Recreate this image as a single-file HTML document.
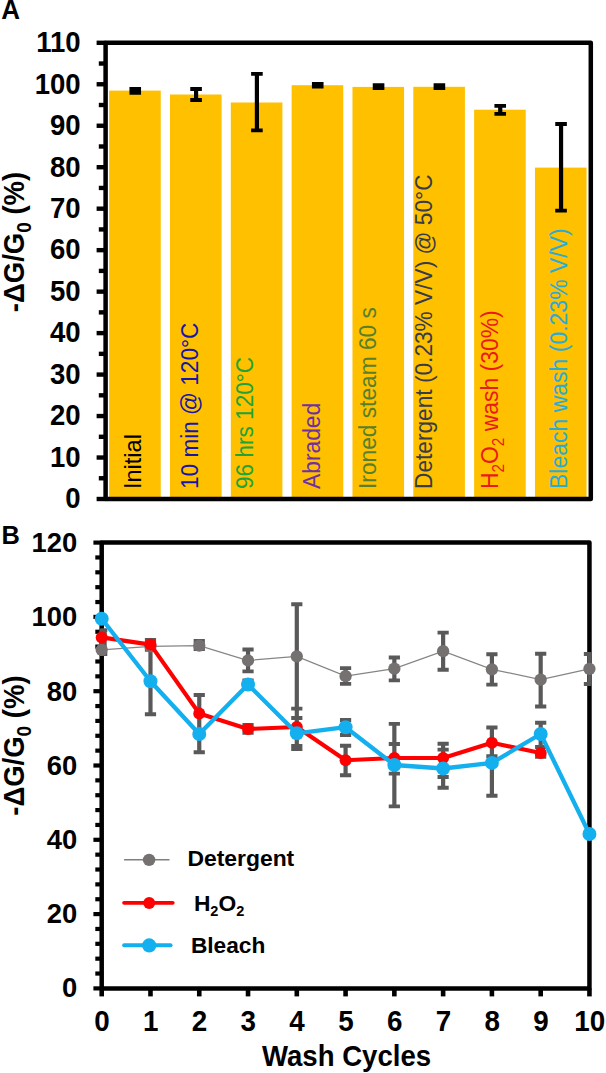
<!DOCTYPE html>
<html><head><meta charset="utf-8"><style>
html,body{margin:0;padding:0;background:#fff;}
svg{display:block;}
text{font-family:"Liberation Sans", sans-serif;}
</style></head><body>
<svg width="606" height="1073" viewBox="0 0 606 1073" font-family='"Liberation Sans", sans-serif'>
<rect x="109.15" y="90.60" width="51.60" height="408.40" fill="#FFC000"/>
<rect x="169.98" y="94.50" width="51.60" height="404.50" fill="#FFC000"/>
<rect x="230.81" y="102.50" width="51.60" height="396.50" fill="#FFC000"/>
<rect x="291.64" y="85.20" width="51.60" height="413.80" fill="#FFC000"/>
<rect x="352.47" y="86.90" width="51.60" height="412.10" fill="#FFC000"/>
<rect x="413.30" y="86.80" width="51.60" height="412.20" fill="#FFC000"/>
<rect x="474.13" y="109.70" width="51.60" height="389.30" fill="#FFC000"/>
<rect x="534.96" y="167.60" width="51.60" height="331.40" fill="#FFC000"/>
<path d="M135.25 89.00V92.80" stroke="#000" stroke-width="4.2" fill="none"/>
<path d="M129.45 89.00H141.05M129.45 92.80H141.05" stroke="#000" stroke-width="3.8" fill="none"/>
<path d="M196.08 89.00V100.00" stroke="#000" stroke-width="4.2" fill="none"/>
<path d="M190.28 89.00H201.88M190.28 100.00H201.88" stroke="#000" stroke-width="3.8" fill="none"/>
<path d="M256.91 73.90V130.30" stroke="#000" stroke-width="4.2" fill="none"/>
<path d="M251.11 73.90H262.71M251.11 130.30H262.71" stroke="#000" stroke-width="3.8" fill="none"/>
<path d="M317.74 83.80V86.60" stroke="#000" stroke-width="4.2" fill="none"/>
<path d="M311.94 83.80H323.54M311.94 86.60H323.54" stroke="#000" stroke-width="3.8" fill="none"/>
<path d="M378.57 85.10V88.00" stroke="#000" stroke-width="4.2" fill="none"/>
<path d="M372.77 85.10H384.37M372.77 88.00H384.37" stroke="#000" stroke-width="3.8" fill="none"/>
<path d="M439.40 85.10V88.00" stroke="#000" stroke-width="4.2" fill="none"/>
<path d="M433.60 85.10H445.20M433.60 88.00H445.20" stroke="#000" stroke-width="3.8" fill="none"/>
<path d="M500.23 105.90V113.80" stroke="#000" stroke-width="4.2" fill="none"/>
<path d="M494.43 105.90H506.03M494.43 113.80H506.03" stroke="#000" stroke-width="3.8" fill="none"/>
<path d="M561.06 124.00V210.60" stroke="#000" stroke-width="4.2" fill="none"/>
<path d="M555.26 124.00H566.86M555.26 210.60H566.86" stroke="#000" stroke-width="3.8" fill="none"/>
<text transform="translate(140.70,489.0) rotate(-90) scale(1,1.04)" font-size="23.5" fill="#000000">Initial</text>
<text transform="translate(198.10,489.0) rotate(-90) scale(1,1.04)" font-size="22.6" fill="#1515AA">10 min @ 120°C</text>
<text transform="translate(253.20,489.0) rotate(-90) scale(1,1.04)" font-size="22.6" fill="#20A43A">96 hrs 120°C</text>
<text transform="translate(319.60,489.0) rotate(-90) scale(1,1.04)" font-size="22.8" fill="#7030A0">Abraded</text>
<text transform="translate(376.30,489.0) rotate(-90) scale(1,1.04)" font-size="22.75" fill="#587F2C">Ironed steam 60 s</text>
<text transform="translate(432.20,489.0) rotate(-90) scale(1,1.04)" font-size="22.7" fill="#383C48">Detergent (0.23% V/V) @ 50°C</text>
<text transform="translate(498.20,489.0) rotate(-90) scale(1,1.04)" font-size="22.9" fill="#EA1A1A">H<tspan font-size="15.3" dy="5.4">2</tspan><tspan dy="-5.4">O</tspan><tspan font-size="15.3" dy="5.4">2</tspan><tspan dy="-5.4"> wash (30%)</tspan></text>
<text transform="translate(567.00,489.0) rotate(-90) scale(1,1.04)" font-size="23.0" fill="#2AAAD6">Bleach wash (0.23% V/V)</text>
<path d="M105.6 42.8H590.8V499.0H105.6Z" stroke="#000" stroke-width="4.5" fill="none" stroke-linejoin="round"/>
<path d="M96.6 499.00H105.6" stroke="#000" stroke-width="4.4"/>
<path d="M98.8 478.26H105.6" stroke="#000" stroke-width="4.4"/>
<path d="M96.6 457.53H105.6" stroke="#000" stroke-width="4.4"/>
<path d="M98.8 436.79H105.6" stroke="#000" stroke-width="4.4"/>
<path d="M96.6 416.05H105.6" stroke="#000" stroke-width="4.4"/>
<path d="M98.8 395.32H105.6" stroke="#000" stroke-width="4.4"/>
<path d="M96.6 374.58H105.6" stroke="#000" stroke-width="4.4"/>
<path d="M98.8 353.85H105.6" stroke="#000" stroke-width="4.4"/>
<path d="M96.6 333.11H105.6" stroke="#000" stroke-width="4.4"/>
<path d="M98.8 312.37H105.6" stroke="#000" stroke-width="4.4"/>
<path d="M96.6 291.64H105.6" stroke="#000" stroke-width="4.4"/>
<path d="M98.8 270.90H105.6" stroke="#000" stroke-width="4.4"/>
<path d="M96.6 250.16H105.6" stroke="#000" stroke-width="4.4"/>
<path d="M98.8 229.43H105.6" stroke="#000" stroke-width="4.4"/>
<path d="M96.6 208.69H105.6" stroke="#000" stroke-width="4.4"/>
<path d="M98.8 187.95H105.6" stroke="#000" stroke-width="4.4"/>
<path d="M96.6 167.22H105.6" stroke="#000" stroke-width="4.4"/>
<path d="M98.8 146.48H105.6" stroke="#000" stroke-width="4.4"/>
<path d="M96.6 125.75H105.6" stroke="#000" stroke-width="4.4"/>
<path d="M98.8 105.01H105.6" stroke="#000" stroke-width="4.4"/>
<path d="M96.6 84.27H105.6" stroke="#000" stroke-width="4.4"/>
<path d="M98.8 63.54H105.6" stroke="#000" stroke-width="4.4"/>
<path d="M96.6 42.80H105.6" stroke="#000" stroke-width="4.4"/>
<text transform="translate(80.6,508.30) scale(1,1.04)" font-size="27.55" font-weight="bold" text-anchor="end">0</text>
<text transform="translate(80.6,466.83) scale(1,1.04)" font-size="27.55" font-weight="bold" text-anchor="end">10</text>
<text transform="translate(80.6,425.35) scale(1,1.04)" font-size="27.55" font-weight="bold" text-anchor="end">20</text>
<text transform="translate(80.6,383.88) scale(1,1.04)" font-size="27.55" font-weight="bold" text-anchor="end">30</text>
<text transform="translate(80.6,342.41) scale(1,1.04)" font-size="27.55" font-weight="bold" text-anchor="end">40</text>
<text transform="translate(80.6,300.94) scale(1,1.04)" font-size="27.55" font-weight="bold" text-anchor="end">50</text>
<text transform="translate(80.6,259.46) scale(1,1.04)" font-size="27.55" font-weight="bold" text-anchor="end">60</text>
<text transform="translate(80.6,217.99) scale(1,1.04)" font-size="27.55" font-weight="bold" text-anchor="end">70</text>
<text transform="translate(80.6,176.52) scale(1,1.04)" font-size="27.55" font-weight="bold" text-anchor="end">80</text>
<text transform="translate(80.6,135.05) scale(1,1.04)" font-size="27.55" font-weight="bold" text-anchor="end">90</text>
<text transform="translate(80.6,93.57) scale(1,1.04)" font-size="27.55" font-weight="bold" text-anchor="end">100</text>
<text transform="translate(80.6,52.10) scale(1,1.04)" font-size="27.55" font-weight="bold" text-anchor="end">110</text>
<text transform="translate(1.25,19) scale(1,1.04)" font-size="26" font-weight="bold">A</text>
<text transform="translate(24.3,242.00) rotate(-90) scale(1,1.04)" font-size="27.5" font-weight="bold" text-anchor="middle">-ΔG/G<tspan font-size="19" dy="6">0</tspan><tspan dy="-6"> (%)</tspan></text>
<path d="M101.7 542.6H589.45V988.4H101.7Z" stroke="#000" stroke-width="4.5" fill="none" stroke-linejoin="round"/>
<path d="M93.4 988.40H101.7" stroke="#000" stroke-width="4.2"/>
<path d="M95.3 973.54H101.7" stroke="#000" stroke-width="4.2"/>
<path d="M95.3 958.68H101.7" stroke="#000" stroke-width="4.2"/>
<path d="M95.3 943.82H101.7" stroke="#000" stroke-width="4.2"/>
<path d="M95.3 928.96H101.7" stroke="#000" stroke-width="4.2"/>
<path d="M93.4 914.10H101.7" stroke="#000" stroke-width="4.2"/>
<path d="M95.3 899.24H101.7" stroke="#000" stroke-width="4.2"/>
<path d="M95.3 884.38H101.7" stroke="#000" stroke-width="4.2"/>
<path d="M95.3 869.52H101.7" stroke="#000" stroke-width="4.2"/>
<path d="M95.3 854.66H101.7" stroke="#000" stroke-width="4.2"/>
<path d="M93.4 839.80H101.7" stroke="#000" stroke-width="4.2"/>
<path d="M95.3 824.94H101.7" stroke="#000" stroke-width="4.2"/>
<path d="M95.3 810.08H101.7" stroke="#000" stroke-width="4.2"/>
<path d="M95.3 795.22H101.7" stroke="#000" stroke-width="4.2"/>
<path d="M95.3 780.36H101.7" stroke="#000" stroke-width="4.2"/>
<path d="M93.4 765.50H101.7" stroke="#000" stroke-width="4.2"/>
<path d="M95.3 750.64H101.7" stroke="#000" stroke-width="4.2"/>
<path d="M95.3 735.78H101.7" stroke="#000" stroke-width="4.2"/>
<path d="M95.3 720.92H101.7" stroke="#000" stroke-width="4.2"/>
<path d="M95.3 706.06H101.7" stroke="#000" stroke-width="4.2"/>
<path d="M93.4 691.20H101.7" stroke="#000" stroke-width="4.2"/>
<path d="M95.3 676.34H101.7" stroke="#000" stroke-width="4.2"/>
<path d="M95.3 661.48H101.7" stroke="#000" stroke-width="4.2"/>
<path d="M95.3 646.62H101.7" stroke="#000" stroke-width="4.2"/>
<path d="M95.3 631.76H101.7" stroke="#000" stroke-width="4.2"/>
<path d="M93.4 616.90H101.7" stroke="#000" stroke-width="4.2"/>
<path d="M95.3 602.04H101.7" stroke="#000" stroke-width="4.2"/>
<path d="M95.3 587.18H101.7" stroke="#000" stroke-width="4.2"/>
<path d="M95.3 572.32H101.7" stroke="#000" stroke-width="4.2"/>
<path d="M95.3 557.46H101.7" stroke="#000" stroke-width="4.2"/>
<path d="M93.4 542.60H101.7" stroke="#000" stroke-width="4.2"/>
<path d="M101.70 988.4V996.4" stroke="#000" stroke-width="4.6"/>
<path d="M150.48 988.4V996.4" stroke="#000" stroke-width="4.6"/>
<path d="M199.25 988.4V996.4" stroke="#000" stroke-width="4.6"/>
<path d="M248.03 988.4V996.4" stroke="#000" stroke-width="4.6"/>
<path d="M296.80 988.4V996.4" stroke="#000" stroke-width="4.6"/>
<path d="M345.58 988.4V996.4" stroke="#000" stroke-width="4.6"/>
<path d="M394.35 988.4V996.4" stroke="#000" stroke-width="4.6"/>
<path d="M443.13 988.4V996.4" stroke="#000" stroke-width="4.6"/>
<path d="M491.90 988.4V996.4" stroke="#000" stroke-width="4.6"/>
<path d="M540.68 988.4V996.4" stroke="#000" stroke-width="4.6"/>
<path d="M589.45 988.4V996.4" stroke="#000" stroke-width="4.6"/>
<polyline points="101.70,649.80 150.48,646.30 199.25,645.60 248.03,660.50 296.80,656.30 345.58,676.20 394.35,668.70 443.13,651.20 491.90,669.30 540.68,679.70 589.45,668.80" stroke="#858585" stroke-width="1.25" fill="none"/>
<g><path d="M101.70 630.40V654.00" stroke="#595959" stroke-width="4.2" fill="none"/><path d="M99.50 630.40H107.30M99.50 654.00H107.30" stroke="#595959" stroke-width="3.9" fill="none"/><path d="M150.48 640.00V714.20" stroke="#595959" stroke-width="4.2" fill="none"/><path d="M144.88 640.00H156.08M144.88 714.20H156.08M144.88 649.80H156.08" stroke="#595959" stroke-width="3.9" fill="none"/><path d="M199.25 641.00V649.00" stroke="#595959" stroke-width="4.2" fill="none"/><path d="M193.65 641.00H204.85M193.65 649.00H204.85" stroke="#595959" stroke-width="3.9" fill="none"/><path d="M199.25 695.00V752.20" stroke="#595959" stroke-width="4.2" fill="none"/><path d="M193.65 695.00H204.85M193.65 752.20H204.85" stroke="#595959" stroke-width="3.9" fill="none"/><path d="M248.03 649.50V671.40" stroke="#595959" stroke-width="4.2" fill="none"/><path d="M242.43 649.50H253.63M242.43 671.40H253.63" stroke="#595959" stroke-width="3.9" fill="none"/><path d="M248.03 680.50V688.50" stroke="#595959" stroke-width="4.2" fill="none"/><path d="M242.43 680.50H253.63M242.43 688.50H253.63" stroke="#595959" stroke-width="3.9" fill="none"/><path d="M248.03 725.00V732.90" stroke="#595959" stroke-width="4.2" fill="none"/><path d="M242.43 725.00H253.63M242.43 732.90H253.63" stroke="#595959" stroke-width="3.9" fill="none"/><path d="M296.80 604.20V749.00" stroke="#595959" stroke-width="4.2" fill="none"/><path d="M291.20 604.20H302.40M291.20 749.00H302.40M291.20 708.60H302.40M291.20 718.00H302.40M291.20 746.00H302.40" stroke="#595959" stroke-width="3.9" fill="none"/><path d="M345.58 668.10V683.90" stroke="#595959" stroke-width="4.2" fill="none"/><path d="M339.98 668.10H351.18M339.98 683.90H351.18" stroke="#595959" stroke-width="3.9" fill="none"/><path d="M345.58 720.00V735.00" stroke="#595959" stroke-width="4.2" fill="none"/><path d="M339.98 720.00H351.18M339.98 735.00H351.18" stroke="#595959" stroke-width="3.9" fill="none"/><path d="M345.58 745.80V775.20" stroke="#595959" stroke-width="4.2" fill="none"/><path d="M339.98 745.80H351.18M339.98 775.20H351.18" stroke="#595959" stroke-width="3.9" fill="none"/><path d="M394.35 657.50V680.40" stroke="#595959" stroke-width="4.2" fill="none"/><path d="M388.75 657.50H399.95M388.75 680.40H399.95" stroke="#595959" stroke-width="3.9" fill="none"/><path d="M394.35 723.90V806.40" stroke="#595959" stroke-width="4.2" fill="none"/><path d="M388.75 723.90H399.95M388.75 806.40H399.95M388.75 744.00H399.95M388.75 773.60H399.95" stroke="#595959" stroke-width="3.9" fill="none"/><path d="M443.13 632.60V669.80" stroke="#595959" stroke-width="4.2" fill="none"/><path d="M437.53 632.60H448.73M437.53 669.80H448.73" stroke="#595959" stroke-width="3.9" fill="none"/><path d="M443.13 743.70V787.70" stroke="#595959" stroke-width="4.2" fill="none"/><path d="M437.53 743.70H448.73M437.53 787.70H448.73M437.53 749.60H448.73M437.53 777.00H448.73" stroke="#595959" stroke-width="3.9" fill="none"/><path d="M491.90 654.30V684.60" stroke="#595959" stroke-width="4.2" fill="none"/><path d="M486.30 654.30H497.50M486.30 684.60H497.50" stroke="#595959" stroke-width="3.9" fill="none"/><path d="M491.90 727.50V795.70" stroke="#595959" stroke-width="4.2" fill="none"/><path d="M486.30 727.50H497.50M486.30 795.70H497.50M486.30 756.20H497.50" stroke="#595959" stroke-width="3.9" fill="none"/><path d="M540.68 653.80V706.50" stroke="#595959" stroke-width="4.2" fill="none"/><path d="M535.08 653.80H546.28M535.08 706.50H546.28" stroke="#595959" stroke-width="3.9" fill="none"/><path d="M540.68 722.70V756.70" stroke="#595959" stroke-width="4.2" fill="none"/><path d="M535.08 722.70H546.28M535.08 756.70H546.28M535.08 747.00H546.28" stroke="#595959" stroke-width="3.9" fill="none"/><path d="M589.45 654.00V684.00" stroke="#595959" stroke-width="4.2" fill="none"/><path d="M583.85 654.00H591.70M583.85 684.00H591.70" stroke="#595959" stroke-width="3.9" fill="none"/></g>
<rect x="101" y="628.5" width="5.7" height="27.4" fill="#595959"/>
<circle cx="101.70" cy="649.80" r="6.15" fill="#767171"/>
<circle cx="150.48" cy="646.30" r="6.15" fill="#767171"/>
<circle cx="199.25" cy="645.60" r="6.15" fill="#767171"/>
<circle cx="248.03" cy="660.50" r="6.15" fill="#767171"/>
<circle cx="296.80" cy="656.30" r="6.15" fill="#767171"/>
<circle cx="345.58" cy="676.20" r="6.15" fill="#767171"/>
<circle cx="394.35" cy="668.70" r="6.15" fill="#767171"/>
<circle cx="443.13" cy="651.20" r="6.15" fill="#767171"/>
<circle cx="491.90" cy="669.30" r="6.15" fill="#767171"/>
<circle cx="540.68" cy="679.70" r="6.15" fill="#767171"/>
<circle cx="589.45" cy="668.80" r="6.15" fill="#767171"/>
<polyline points="101.70,637.40 150.48,644.60 199.25,713.50 248.03,729.00 296.80,727.00 345.58,760.20 394.35,758.00 443.13,758.00 491.90,742.80 540.68,753.00" stroke="#FF0000" stroke-width="4.1" fill="none" stroke-linejoin="round" stroke-linecap="round"/>
<circle cx="101.70" cy="637.40" r="6.0" fill="#FF0000"/>
<circle cx="150.48" cy="644.60" r="6.0" fill="#FF0000"/>
<circle cx="199.25" cy="713.50" r="6.0" fill="#FF0000"/>
<circle cx="248.03" cy="729.00" r="6.0" fill="#FF0000"/>
<circle cx="296.80" cy="727.00" r="6.0" fill="#FF0000"/>
<circle cx="345.58" cy="760.20" r="6.0" fill="#FF0000"/>
<circle cx="394.35" cy="758.00" r="6.0" fill="#FF0000"/>
<circle cx="443.13" cy="758.00" r="6.0" fill="#FF0000"/>
<circle cx="491.90" cy="742.80" r="6.0" fill="#FF0000"/>
<circle cx="540.68" cy="753.00" r="6.0" fill="#FF0000"/>
<polyline points="101.70,618.80 150.48,681.30 199.25,734.00 248.03,684.50 296.80,733.30 345.58,727.20 394.35,765.00 443.13,768.50 491.90,762.90 540.68,734.00 589.45,834.00" stroke="#14AFEE" stroke-width="4.3" fill="none" stroke-linejoin="round" stroke-linecap="round"/>
<circle cx="101.70" cy="618.80" r="7.0" fill="#14AFEE"/>
<circle cx="150.48" cy="681.30" r="7.0" fill="#14AFEE"/>
<circle cx="199.25" cy="734.00" r="7.0" fill="#14AFEE"/>
<circle cx="248.03" cy="684.50" r="7.0" fill="#14AFEE"/>
<circle cx="296.80" cy="733.30" r="7.0" fill="#14AFEE"/>
<circle cx="345.58" cy="727.20" r="7.0" fill="#14AFEE"/>
<circle cx="394.35" cy="765.00" r="7.0" fill="#14AFEE"/>
<circle cx="443.13" cy="768.50" r="7.0" fill="#14AFEE"/>
<circle cx="491.90" cy="762.90" r="7.0" fill="#14AFEE"/>
<circle cx="540.68" cy="734.00" r="7.0" fill="#14AFEE"/>
<circle cx="589.45" cy="834.00" r="7.0" fill="#14AFEE"/>
<text transform="translate(77.2,997.10) scale(1,1.04)" font-size="27.4" font-weight="bold" text-anchor="end">0</text>
<text transform="translate(77.2,922.96) scale(1,1.04)" font-size="27.4" font-weight="bold" text-anchor="end">20</text>
<text transform="translate(77.2,848.82) scale(1,1.04)" font-size="27.4" font-weight="bold" text-anchor="end">40</text>
<text transform="translate(77.2,774.68) scale(1,1.04)" font-size="27.4" font-weight="bold" text-anchor="end">60</text>
<text transform="translate(77.2,700.54) scale(1,1.04)" font-size="27.4" font-weight="bold" text-anchor="end">80</text>
<text transform="translate(77.2,626.40) scale(1,1.04)" font-size="27.4" font-weight="bold" text-anchor="end">100</text>
<text transform="translate(77.2,552.26) scale(1,1.04)" font-size="27.4" font-weight="bold" text-anchor="end">120</text>
<text transform="translate(102.00,1030.7) scale(1,1.04)" font-size="27.8" font-weight="bold" text-anchor="middle">0</text>
<text transform="translate(150.78,1030.7) scale(1,1.04)" font-size="27.8" font-weight="bold" text-anchor="middle">1</text>
<text transform="translate(199.55,1030.7) scale(1,1.04)" font-size="27.8" font-weight="bold" text-anchor="middle">2</text>
<text transform="translate(248.33,1030.7) scale(1,1.04)" font-size="27.8" font-weight="bold" text-anchor="middle">3</text>
<text transform="translate(297.10,1030.7) scale(1,1.04)" font-size="27.8" font-weight="bold" text-anchor="middle">4</text>
<text transform="translate(345.88,1030.7) scale(1,1.04)" font-size="27.8" font-weight="bold" text-anchor="middle">5</text>
<text transform="translate(394.65,1030.7) scale(1,1.04)" font-size="27.8" font-weight="bold" text-anchor="middle">6</text>
<text transform="translate(443.43,1030.7) scale(1,1.04)" font-size="27.8" font-weight="bold" text-anchor="middle">7</text>
<text transform="translate(492.20,1030.7) scale(1,1.04)" font-size="27.8" font-weight="bold" text-anchor="middle">8</text>
<text transform="translate(540.98,1030.7) scale(1,1.04)" font-size="27.8" font-weight="bold" text-anchor="middle">9</text>
<text transform="translate(589.75,1030.7) scale(1,1.04)" font-size="27.8" font-weight="bold" text-anchor="middle">10</text>
<text transform="translate(262,1066) scale(1,1.04)" font-size="27.6" font-weight="bold">Wash Cycles</text>
<text transform="translate(1.4,544.3) scale(1,1.04)" font-size="25.4" font-weight="bold">B</text>
<text transform="translate(24.3,745.60) rotate(-90) scale(1,1.04)" font-size="27.5" font-weight="bold" text-anchor="middle">-ΔG/G<tspan font-size="19" dy="6">0</tspan><tspan dy="-6"> (%)</tspan></text>
<path d="M124.1 859.7H169.5" stroke="#7F7F7F" stroke-width="1.4"/><circle cx="149.1" cy="859.9" r="6.2" fill="#767171"/>
<text x="187.4" y="865.7" font-size="22.9" font-weight="bold">Detergent</text>
<path d="M124.1 902.85H172.7" stroke="#FF0000" stroke-width="3.9" stroke-linecap="round"/><circle cx="149.2" cy="902.9" r="6.0" fill="#FF0000"/>
<text x="193.9" y="911.4" font-size="22.8" font-weight="bold">H<tspan font-size="14.5" dy="5">2</tspan><tspan dy="-5">O</tspan><tspan font-size="14.5" dy="5">2</tspan></text>
<path d="M124.2 945.2H170.5" stroke="#14AFEE" stroke-width="4.1" stroke-linecap="round"/><circle cx="149.2" cy="945.4" r="7.1" fill="#14AFEE"/>
<text x="190.9" y="953.2" font-size="22.7" font-weight="bold">Bleach</text>
</svg>
</body></html>
